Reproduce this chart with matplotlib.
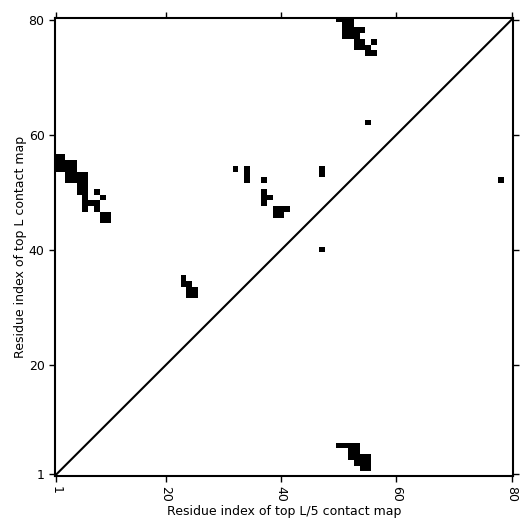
import numpy as np
import matplotlib
matplotlib.use("Agg")
import matplotlib.pyplot as plt

L = 80

# contacts: column (x) index, row (y) index
cols = [1, 2,
        1, 2, 3, 4,
        1, 2, 3, 4,
        3, 4, 5, 6,
        3, 4, 5, 6,
        5, 6,
        5, 6, 8,
        6, 9,
        6, 7, 8,
        6, 8,
        9, 10,
        9, 10,
        32, 34, 34, 34, 37, 47, 47,
        37, 37, 38, 37, 39, 40, 41, 39, 40, 47,
        23, 23, 24, 24, 25, 24, 25,
        50, 51, 52, 51, 52, 51, 52, 53, 54, 51, 52, 53,
        53, 54, 56, 53, 54, 55, 55, 56,
        55, 78,
        50, 51, 52, 53, 52, 53, 52, 53, 54, 55, 53, 54, 55, 54, 55]
rows = [56, 56,
        55, 55, 55, 55,
        54, 54, 54, 54,
        53, 53, 53, 53,
        52, 52, 52, 52,
        51, 51,
        50, 50, 50,
        49, 49,
        48, 48, 48,
        47, 47,
        46, 46,
        45, 45,
        54, 54, 53, 52, 52, 54, 53,
        50, 49, 49, 48, 47, 47, 47, 46, 46, 40,
        35, 34, 34, 33, 33, 32, 32,
        80, 80, 80, 79, 79, 78, 78, 78, 78, 77, 77, 77,
        76, 76, 76, 75, 75, 75, 74, 74,
        62, 52,
        6, 6, 6, 6, 5, 5, 4, 4, 4, 4, 3, 3, 3, 2, 2]

cmap = np.zeros((L, L))
for i, j in zip(cols, rows):
    cmap[j - 1, i - 1] = 1

fig = plt.figure(figsize=(5.32, 5.32), dpi=100)
ax = fig.add_axes([0.1034, 0.1053, 0.861, 0.861])
ax.imshow(cmap, cmap='Greys', vmin=0, vmax=1, origin='lower',
          extent=(0.5, L + 0.5, 0.5, L + 0.5), interpolation='nearest', aspect='auto')
ax.plot([1, L], [1, L], color='black', lw=1.5)

ax.set_xlim(0.75, L + 0.25)
ax.set_ylim(0.7, L + 0.3)
ticks = [1, 20, 40, 60, 80]
ax.set_xticks(ticks)
ax.set_yticks(ticks)
ax.set_xticklabels([str(t) for t in ticks], rotation=270, fontsize=9)
ax.set_yticklabels([str(t) for t in ticks], fontsize=9)
ax.tick_params(direction='out', length=4, width=1, top=True, right=True)
for s in ax.spines.values():
    s.set_linewidth(1.5)
ax.set_xlabel('Residue index of top L/5 contact map', fontsize=9, labelpad=2)
ax.set_ylabel('Residue index of top L contact map', fontsize=9, labelpad=1)

fig.savefig('out.png', dpi=100)
